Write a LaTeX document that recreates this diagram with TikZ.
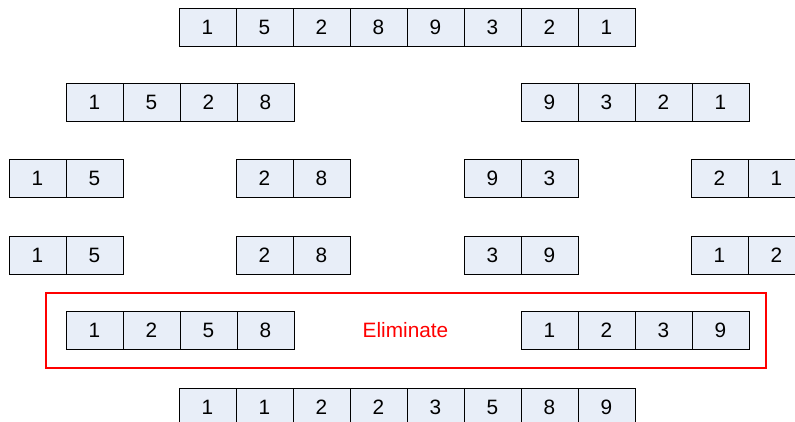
\documentclass[tikz,border=0pt]{standalone}
\usepackage{fontspec}
\setmainfont{Liberation Sans}
\usepackage{xcolor}
\usetikzlibrary{positioning}
\definecolor{cellfill}{RGB}{232,238,248}

\begin{document}
\begin{tikzpicture}[x=1pt,y=1pt]
\tikzset{cell/.style={draw=black,fill=cellfill,line width=0.9pt,minimum width=57pt,minimum height=38pt,inner sep=0pt,outer sep=0pt,font=\fontsize{20.8}{25}\selectfont}}
\useasboundingbox (0,0) rectangle (795,-422);
% row 1
\node[cell] (a1) at (207.5,-27) {1};
\node[cell] (a2) at (264.5,-27) {5};
\node[cell] (a3) at (321.5,-27) {2};
\node[cell] (a4) at (378.5,-27) {8};
\node[cell] (a5) at (435.5,-27) {9};
\node[cell] (a6) at (492.5,-27) {3};
\node[cell] (a7) at (549.5,-27) {2};
\node[cell] (a8) at (606.5,-27) {1};
% row 2
\node[cell] (b1) at (94.5,-102.5) {1};
\node[cell] (b2) at (151.5,-102.5) {5};
\node[cell] (b3) at (208.5,-102.5) {2};
\node[cell] (b4) at (265.5,-102.5) {8};
\node[cell] (b5) at (549.5,-102.5) {9};
\node[cell] (b6) at (606.5,-102.5) {3};
\node[cell] (b7) at (663.5,-102.5) {2};
\node[cell] (b8) at (720.5,-102.5) {1};
% row 3
\node[cell] (c1) at (37.5,-178) {1};
\node[cell] (c2) at (94.5,-178) {5};
\node[cell] (c3) at (264.5,-178) {2};
\node[cell] (c4) at (321.5,-178) {8};
\node[cell] (c5) at (492.5,-178) {9};
\node[cell] (c6) at (549.5,-178) {3};
\node[cell] (c7) at (719.5,-178) {2};
\node[cell] (c8) at (776.5,-178) {1};
% row 4
\node[cell] (d1) at (37.5,-255) {1};
\node[cell] (d2) at (94.5,-255) {5};
\node[cell] (d3) at (264.5,-255) {2};
\node[cell] (d4) at (321.5,-255) {8};
\node[cell] (d5) at (492.5,-255) {3};
\node[cell] (d6) at (549.5,-255) {9};
\node[cell] (d7) at (719.5,-255) {1};
\node[cell] (d8) at (776.5,-255) {2};
% row 5
\node[draw=red,line width=2.6pt,minimum width=720pt,minimum height=75pt] (box) at (406,-330.5) {};
\node[cell] (e1) at (94.5,-330) {1};
\node[cell] (e2) at (151.5,-330) {2};
\node[cell] (e3) at (208.5,-330) {5};
\node[cell] (e4) at (265.5,-330) {8};
\node[cell] (e5) at (549.5,-330) {1};
\node[cell] (e6) at (606.5,-330) {2};
\node[cell] (e7) at (663.5,-330) {3};
\node[cell] (e8) at (720.5,-330) {9};
\node[text=red,font=\fontsize{20.8}{25}\selectfont] (elim) at (405.5,-330) {Eliminate};
% row 6
\node[cell] (f1) at (207.5,-407) {1};
\node[cell] (f2) at (264.5,-407) {1};
\node[cell] (f3) at (321.5,-407) {2};
\node[cell] (f4) at (378.5,-407) {2};
\node[cell] (f5) at (435.5,-407) {3};
\node[cell] (f6) at (492.5,-407) {5};
\node[cell] (f7) at (549.5,-407) {8};
\node[cell] (f8) at (606.5,-407) {9};
\end{tikzpicture}
\end{document}
